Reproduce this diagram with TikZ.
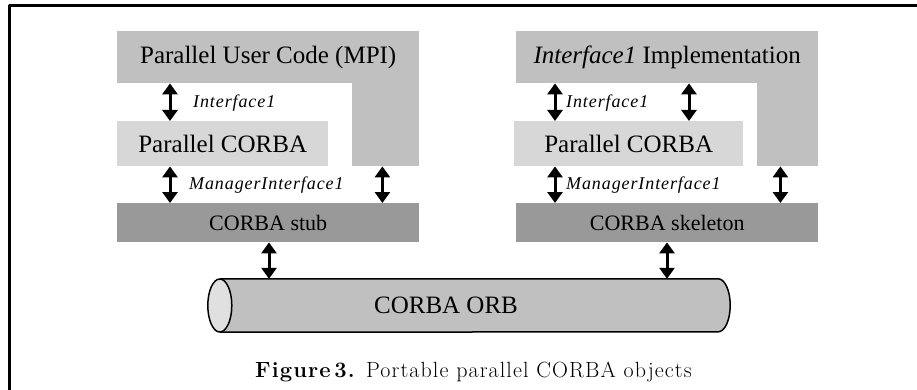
\documentclass[tikz,border=0pt]{standalone}
\usepackage{fontspec}
\usepackage{tikz}
\usetikzlibrary{arrows.meta}
\usetikzlibrary{positioning}
\newfontfamily\tms{Liberation Serif}
\newfontfamily\tmsls[LetterSpace=5]{Liberation Serif}
\newfontfamily\cmr[LetterSpace=5]{Latin Modern Roman}
\definecolor{usergray}{RGB}{192,192,192}
\definecolor{paragray}{RGB}{215,215,215}
\definecolor{stubgray}{RGB}{153,153,153}
\definecolor{endgray}{RGB}{224,224,224}
\begin{document}
\begin{tikzpicture}[x=1pt,y=-1pt,line join=round,
  upper/.style={fill=usergray,inner sep=0pt,anchor=north west,font=\tms\fontsize{25}{30}\selectfont},
  middle/.style={fill=paragray,inner sep=0pt,anchor=north west,font=\tms\fontsize{25}{30}\selectfont},
  lower/.style={fill=stubgray,inner sep=0pt,anchor=north west,font=\tms\fontsize{22}{26}\selectfont},
  ifname/.style={anchor=west,inner sep=0pt,font=\tmsls\itshape\fontsize{18}{22}\selectfont},
  dbl/.style={line width=3pt,{Triangle[width=15pt,length=11pt]}-{Triangle[width=15pt,length=11pt]}}]
\useasboundingbox (0,0) rectangle (917,390);
\draw[line width=3pt,line cap=rect] (9,392) -- (9,6) -- (920,6);
\node[upper,minimum width=302,minimum height=52] (userL) at (117,31) {Parallel User Code (MPI)};
\fill[usergray] ([xshift=-67pt,yshift=1pt]userL.south east) rectangle (userL.south east |- 0,166);
\node[middle,minimum width=211,minimum height=45] (pcorbaL) at (117,121) {Parallel CORBA};
\node[lower,minimum width=302,minimum height=39] (stubL) at (117,203) {CORBA stub};
\node[upper,minimum width=302,minimum height=52] (userR) at (516,31) {\textit{Interface1} Implementation};
\fill[usergray] ([xshift=-61pt,yshift=1pt]userR.south east) rectangle (userR.south east |- 0,166);
\node[middle,minimum width=229,minimum height=45] (pcorbaR) at (514,121) {Parallel CORBA};
\node[lower,minimum width=302,minimum height=39] (skelR) at (516,203) {CORBA skeleton};
\node[inner sep=0pt,minimum width=498,minimum height=53,font=\tms\fontsize{25}{30}\selectfont] (orb) at (469,305.5) {};
\fill[usergray] (orb.north west) -- (orb.north east) arc[start angle=-90,end angle=90,x radius=12,y radius=26.5] -- (orb.south west) -- cycle;
\draw[line width=1.5pt] (orb.north west) -- (orb.north east) arc[start angle=-90,end angle=90,x radius=12,y radius=26.5] -- (orb.south west);
\filldraw[fill=endgray,line width=1.5pt] (orb.west) ellipse[x radius=12,y radius=26.5];
\node[font=\tms\fontsize{25}{30}\selectfont] (orbtext) at (446,305.5) {CORBA ORB};
\draw[dbl] ([xshift=53pt]userL.south west) -- ([xshift=53pt]pcorbaL.north west);
\draw[dbl] ([xshift=53pt]pcorbaL.south west) -- ([xshift=53pt]stubL.north west);
\draw[dbl] ([xshift=-37pt]stubL.north east |- pcorbaL.south) -- ([xshift=-37pt]stubL.north east);
\draw[dbl] ([xshift=152pt]stubL.south west) -- ([xshift=152pt]stubL.south west |- orb.north);
\draw[dbl] ([xshift=39pt]userR.south west) -- ([xshift=41pt]pcorbaR.north west);
\draw[dbl] ([xshift=173pt]userR.south west) -- ([xshift=175pt]pcorbaR.north west);
\draw[dbl] ([xshift=41pt]pcorbaR.south west) -- ([xshift=39pt]skelR.north west);
\draw[dbl] ([xshift=-38pt]skelR.north east |- pcorbaR.south) -- ([xshift=-38pt]skelR.north east);
\draw[dbl] ([xshift=151pt]skelR.south west) -- ([xshift=151pt]skelR.south west |- orb.north);
\node[ifname] (ifL) at (193,103) {Interface1};
\node[ifname] (mgrL) at (189,185) {ManagerInterface1};
\node[ifname] (ifR) at (566,103) {Interface1};
\node[ifname] (mgrR) at (566,185) {ManagerInterface1};
\node[anchor=base,font=\cmr\fontsize{22}{26}\selectfont] (caption) at (473.5,377) {\textbf{Figure\,3.} Portable parallel CORBA objects};
\end{tikzpicture}
\end{document}
